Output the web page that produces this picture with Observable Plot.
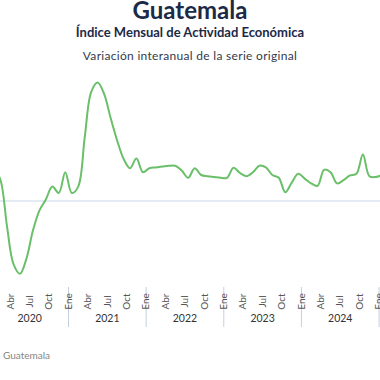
<!DOCTYPE html>
<html>
<head>
<meta charset="utf-8">
<script src="https://cdn.jsdelivr.net/npm/d3@7"></script>
<script src="https://cdn.jsdelivr.net/npm/@observablehq/plot@0.6"></script>
<style>
  html, body { margin: 0; padding: 0; background: #fff; }
  #wrap { position: relative; width: 380px; height: 380px; overflow: hidden; font-family: Lato, "DejaVu Sans", sans-serif; }
  .t { position: absolute; left: 0; width: 380px; text-align: center; white-space: nowrap; }
  #title { top: 0px; font-size: 24px; line-height: 20px; font-weight: 700; color: #1b2a47; }
  #sub { top: 25.8px; font-size: 13px; line-height: 13px; font-weight: 700; color: #1b2a47; }
  #sub2 { top: 49.6px; font-size: 12px; line-height: 12px; letter-spacing: 0.3px; color: #333a4a; }
  #legend { position: absolute; left: 3px; top: 350px; font-size: 10px; line-height: 10px; color: #858585; }
  #chart { position: absolute; left: 0; top: 62px; }
</style>
</head>
<body>
<div id="wrap">
  <div class="t" id="title">Guatemala</div>
  <div class="t" id="sub">Índice Mensual de Actividad Económica</div>
  <div class="t" id="sub2">Variación interanual de la serie original</div>
  <div id="chart"></div>
  <div id="legend">Guatemala</div>
</div>
<script>
// Monthly year-over-year variation (%), Jan 2020 .. Jan 2025
const values = [
  4.1, 2.6, -3.2, -7.9, -9.1, -7.2, -3.7, -1.2, 0.2, 1.8, 1.0, 3.6,
  1.0, 1.8, 7.9, 13.6, 14.8, 13.4, 10.4, 7.6, 5.3, 4.1, 5.3, 3.6,
  4.1, 4.2, 4.3, 4.4, 4.4, 3.8, 2.9, 4.1, 3.25, 3.1, 3.0, 2.9,
  2.9, 4.15, 3.5, 3.1, 3.6, 4.4, 4.2, 3.25, 2.9, 1.1, 2.3, 3.4,
  2.8, 2.2, 1.9, 3.9, 3.6, 2.2, 2.6, 3.2, 3.4, 5.8, 3.1, 3.0,
  3.25
];
const monthNames = ["Ene","Feb","Mar","Abr","May","Jun","Jul","Ago","Sep","Oct","Nov","Dic"];
const tickMonths = ["Ene","Abr","Jul","Oct"];
const years = [2020, 2021, 2022, 2023, 2024];

const data = values.map((v, i) => ({i, v}));
const ticks = values.map((v, i) => ({i, label: monthNames[i % 12]}))
  .filter(d => d.i > 0 && tickMonths.includes(d.label));
const yearLabels = years.map((y, k) => ({i: k * 12 + 5.5, label: String(y)}));
const separators = [...years, 2025].map((y, k) => k * 12 - 0.5);

const chart = Plot.plot({
  width: 380,
  height: 318,
  marginTop: 10.5,
  marginBottom: 99.5,
  marginLeft: 0,
  marginRight: 0,
  x: {type: "linear", domain: [0.989, 59.72], axis: null},
  y: {domain: [-10, 16], axis: null},
  style: {fontFamily: "Lato, 'DejaVu Sans', sans-serif", background: "transparent"},
  marks: [
    Plot.ruleY([0], {stroke: "#dde4f0", strokeWidth: 1.5}),
    Plot.ruleX(separators, {x: d => d, stroke: "#c5d0e0", strokeWidth: 1, insetTop: 214.5, insetBottom: -46.5}),
    Plot.lineY(data, {x: "i", y: "v", stroke: "#6abf69", strokeWidth: 2, curve: "catmull-rom", clip: true}),
    Plot.text(ticks, {x: "i", text: "label", frameAnchor: "bottom", dy: 20.5, rotate: -90, fontSize: 10, fill: "#555"}),
    Plot.text(yearLabels, {x: "i", text: "label", frameAnchor: "bottom", dy: 41.2, fontSize: 10.5, fill: "#333"})
  ]
});
document.getElementById("chart").appendChild(chart);
</script>
</body>
</html>
